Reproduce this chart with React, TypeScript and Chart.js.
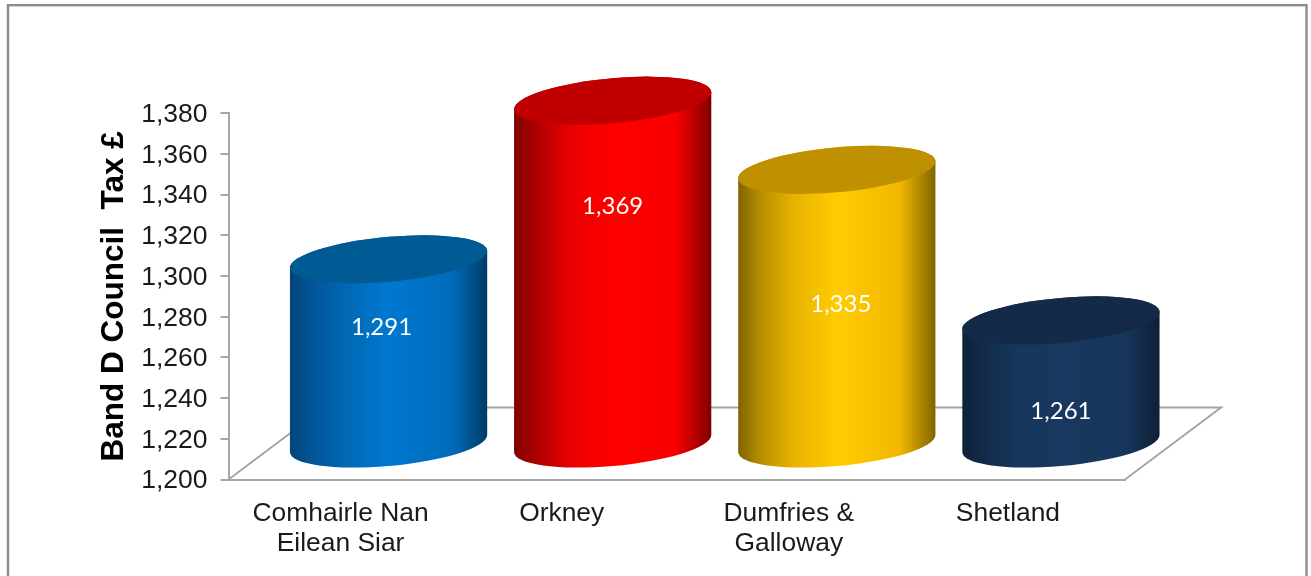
import React, { useEffect, useRef } from "react";
import { Chart, registerables, Plugin } from "chart.js";

Chart.register(...registerables);

const categories = [["Comhairle Nan", "Eilean Siar"], ["Orkney"], ["Dumfries &", "Galloway"], ["Shetland"]];
const councilTax = [1291, 1369, 1335, 1261];
const valueLabels = ["1,291", "1,369", "1,335", "1,261"];
// vertical / horizontal placement of the hand-positioned value labels, relative to the bar top and centre
const labelDrop = [33, 71, 99, 56];
const labelShift = [-7, 0, 4, 0];
// the reference's category labels sit slightly off their tick centres
const categoryNudge = [0, -3, 0, -5];

const bodyStops = [
  ["#03447a", "#02569a", "#0068b4", "#0078d0", "#006cbc", "#003a66"],
  ["#800000", "#b00000", "#e80000", "#ff0000", "#f80000", "#800000"],
  ["#7f6500", "#b89000", "#e8b200", "#ffcc00", "#f2b800", "#7f6500"],
  ["#0e2238", "#132c4b", "#16365c", "#18385f", "#17365b", "#0e2036"],
];
const topColors = ["#005a94", "#c00000", "#bf9000", "#132b49"];
const stopAt = [0, 0.12, 0.28, 0.5, 0.82, 1];

const GREY = "#a6a6a6";
const DEPTH_X = 96;
const DEPTH_Y = 72;
const SHEAR = -0.0863;
const MINOR = 22.5;

const cylinders: Plugin<"bar"> = {
  id: "cylinders",
  beforeDraw(chart) {
    const { ctx } = chart;
    ctx.save();
    ctx.fillStyle = "#ffffff";
    ctx.fillRect(0, 0, chart.width, chart.height);
    ctx.strokeStyle = "#8c8c8c";
    ctx.lineWidth = 2.4;
    ctx.strokeRect(8, 5.2, 1298.5, 640);
    ctx.restore();
  },
  beforeDatasetsDraw(chart) {
    const { ctx, chartArea: a } = chart;
    ctx.save();
    ctx.strokeStyle = GREY;
    ctx.lineWidth = 2;
    ctx.beginPath();
    ctx.moveTo(a.left, a.bottom);
    ctx.lineTo(a.left + DEPTH_X, a.bottom - DEPTH_Y);
    ctx.lineTo(a.right + DEPTH_X, a.bottom - DEPTH_Y);
    ctx.lineTo(a.right, a.bottom);
    ctx.stroke();
    ctx.restore();
  },
  afterDatasetsDraw(chart) {
    const { ctx } = chart;
    const bars = chart.getDatasetMeta(0).data as any[];
    bars.forEach((bar, i) => {
      const cx = bar.x + DEPTH_X / 2;
      const halfW = bar.width / 2;
      const topY = bar.y - DEPTH_Y / 2 + 1;
      const baseY = bar.base - DEPTH_Y / 2 + 1;
      const left = cx - halfW;

      const grad = ctx.createLinearGradient(left, 0, left + bar.width, 0);
      stopAt.forEach((s, k) => grad.addColorStop(s, bodyStops[i][k]));

      const ring = (yc: number, from: number, to: number, ccw: boolean) => {
        ctx.save();
        ctx.transform(1, SHEAR, 0, 1, cx, yc);
        ctx.ellipse(0, 0, halfW, MINOR, 0, from, to, ccw);
        ctx.restore();
      };

      ctx.save();
      ctx.beginPath();
      ring(baseY, Math.PI, 0, true);
      ring(topY, 0, Math.PI, true);
      ctx.closePath();
      ctx.fillStyle = grad;
      ctx.fill();

      ctx.beginPath();
      ring(topY, 0, Math.PI * 2, false);
      ctx.closePath();
      ctx.fillStyle = topColors[i];
      ctx.fill();

      ctx.fillStyle = "#ffffff";
      ctx.font = '24px Lato, "Open Sans", sans-serif';
      ctx.textAlign = "center";
      ctx.textBaseline = "middle";
      ctx.fillText(valueLabels[i], cx + labelShift[i], bar.y + labelDrop[i]);
      ctx.restore();
    });
  },
};

// move a scale's finished tick labels by a small offset
const nudgeLabels = (s: any, dx: (i: number) => number, dy: number) => {
  if (s.__nudged) return;
  s.__nudged = true;
  const orig = s._computeLabelItems.bind(s);
  s._computeLabelItems = (area: any) =>
    orig(area).map((it: any, i: number) => {
      const [x, y] = it.options.translation;
      return { ...it, options: { ...it.options, translation: [x + dx(i), y + dy] } };
    });
};

export default function App() {
  const ref = useRef<HTMLCanvasElement>(null);
  useEffect(() => {
    const chart = new Chart(ref.current!, {
      type: "bar",
      data: {
        labels: categories as any,
        datasets: [
          {
            label: "Band D Council Tax £",
            data: councilTax,
            base: 1200,
            backgroundColor: "rgba(0,0,0,0)",
            borderWidth: 0,
            categoryPercentage: 0.88,
            barPercentage: 1,
          },
        ],
      },
      options: {
        responsive: false,
        animation: false,
        layout: { padding: { top: 113.3, right: 186, left: 0, bottom: 0 } },
        plugins: { legend: { display: false }, tooltip: { enabled: false } },
        scales: {
          x: {
            afterFit: (s: any) => {
              s.height = 96.5;
              nudgeLabels(s, (i) => categoryNudge[i] ?? 0, 0);
            },
            grid: { display: false },
            border: { display: true, color: GREY, width: 2 },
            ticks: {
              padding: 11,
              maxRotation: 0,
              autoSkip: false,
              color: "#1a1a1a",
              font: { family: '"Liberation Sans", Arial, sans-serif', size: 26.4, lineHeight: 1.13 },
            },
          },
          y: {
            min: 1200,
            max: 1380,
            afterFit: (s: any) => {
              s.width = 228.5;
              nudgeLabels(s, () => 0, 1.5);
            },
            grid: { drawOnChartArea: false, drawTicks: true, tickLength: 8, color: GREY, lineWidth: 2 },
            border: { display: true, color: GREY, width: 2 },
            title: {
              display: true,
              text: "Band D Council  Tax £",
              color: "#000000",
              padding: { top: 95, bottom: 0 },
              font: { family: '"Liberation Sans", Arial, sans-serif', size: 31.5, weight: "bold" },
            },
            ticks: {
              stepSize: 20,
              padding: 13,
              color: "#1a1a1a",
              font: { family: '"Liberation Sans", Arial, sans-serif', size: 26.5 },
              callback: (v: any) => Number(v).toLocaleString("en-GB"),
            },
          },
        },
      },
      plugins: [cylinders],
    });
    return () => chart.destroy();
  }, []);
  return (
    <canvas
      ref={ref}
      width={1311}
      height={576}
      style={{ position: "fixed", left: 0, top: 0, width: 1311, height: 576, display: "block" }}
    />
  );
}
